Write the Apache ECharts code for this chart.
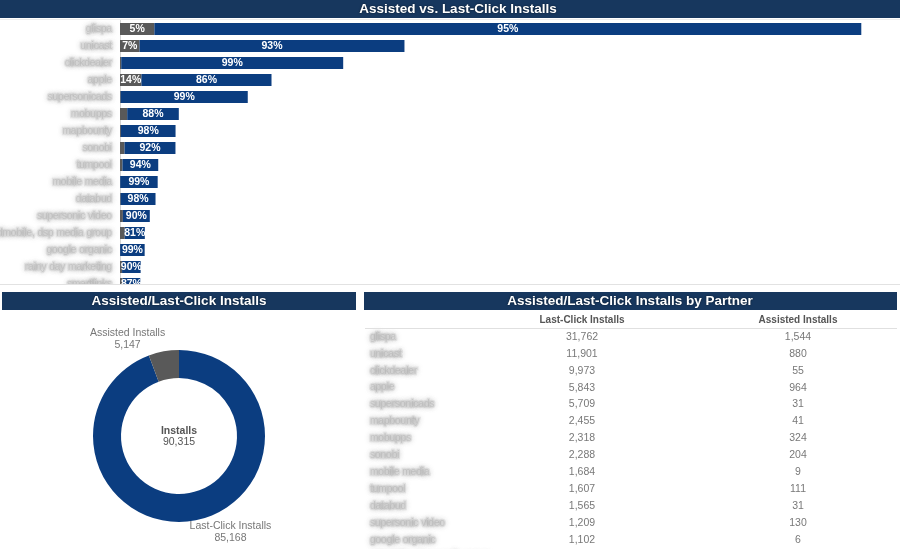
<!DOCTYPE html>
<html><head><meta charset="utf-8">
<script src="https://cdn.jsdelivr.net/npm/echarts@6/dist/echarts.min.js"></script>
<style>html,body{margin:0;padding:0;background:#fff}#c{width:900px;height:549px}</style>
</head><body><div id="c"></div>
<script>
// ---- data ----
const partners = ['glispa','unicast','clickdealer','apple','supersonicads','mobupps','mapbounty','sonobi','tumpool','mobile media','databud','supersonic video','admobile, dsp media group','google organic','rainy day marketing','smartlinks'];
const lastClick = [31762,11901,9973,5843,5709,2318,2455,2288,1607,1684,1565,1209,903,1102,835,792];
const assisted  = [1544,880,55,964,31,324,41,204,111,9,31,130,212,6,93,118];
const donutNames  = ['Last-Click Installs','Assisted Installs'];
const donutValues = [85168, 5147];
const tableColumns = ['Last-Click Installs','Assisted Installs'];

// ---- helpers ----
const FONT = 'Liberation Sans, Arial, sans-serif';
const NAVY = '#0b3d80', GREY = '#595959', HEAD = '#17375e';
const fmt = v => v.toLocaleString('en-US');
const pct = (i, v) => Math.round(v / (lastClick[i] + assisted[i]) * 100) + '%';
const blurLabel = {color:'rgba(150,150,150,0.3)', textBorderColor:'rgba(175,175,175,0.22)', textBorderWidth:2.5,
  textShadowColor:'rgba(140,140,140,1)', textShadowBlur:5, fontSize:10, fontFamily:FONT};

// table order: sorted by last-click
const order = partners.map((_, i) => i).sort((a, b) => lastClick[b] - lastClick[a]);
const tableNames = order.map(i => partners[i]);
const tableData = [];
order.forEach((idx, r) => {
  tableData.push([0, r, lastClick[idx]]);
  tableData.push([1, r, assisted[idx]]);
});
const donutTotal = donutValues.reduce((a, b) => a + b, 0);

const chart = echarts.init(document.getElementById('c'), null, {renderer:'canvas'});
chart.setOption({
  animation:false,
  textStyle:{fontFamily:FONT},
  grid:[
    {left:120, top:20.5, width:779, height:272, containLabel:false, outerBoundsMode:'none'},
    {left:474, top:328.5, width:432, height:270.4, containLabel:false, outerBoundsMode:'none'}
  ],
  xAxis:[
    {gridIndex:0, type:'value', min:0, max:35000, show:false},
    {gridIndex:1, type:'category', data:tableColumns, position:'top', z:60,
     axisLine:{show:false}, axisTick:{show:false}, splitLine:{show:false},
     axisLabel:{margin:3, color:'#555', fontWeight:'bold', fontSize:10, fontFamily:FONT}}
  ],
  yAxis:[
    {gridIndex:0, type:'category', data:partners, inverse:true,
     axisLine:{show:true, lineStyle:{color:'#d4d4d4'}}, axisTick:{show:false},
     axisLabel:Object.assign({margin:8}, blurLabel)},
    {gridIndex:1, type:'category', data:tableNames, inverse:true, z:60,
     axisLine:{show:false}, axisTick:{show:false}, splitLine:{show:false},
     axisLabel:Object.assign({margin:104, align:'left'}, blurLabel)}
  ],
  series:[
    {type:'bar', xAxisIndex:0, yAxisIndex:0, stack:'s', data:assisted, barWidth:12, z:2,
     itemStyle:{color:GREY},
     label:{show:true, position:'inside', color:'#fff', fontSize:10.5, fontWeight:'bold',
       formatter:p => p.value > 500 ? pct(p.dataIndex, p.value) : ''}},
    {type:'bar', xAxisIndex:0, yAxisIndex:0, stack:'s', data:lastClick, barWidth:12, z:2,
     itemStyle:{color:NAVY},
     label:{show:true, position:'inside', color:'#fff', fontSize:10.5, fontWeight:'bold',
       formatter:p => pct(p.dataIndex, p.value)}},
    {type:'pie', z:60, center:[179,436], radius:[58,86], startAngle:90, clockwise:true,
     avoidLabelOverlap:false,
     data:donutNames.map((n, i) => ({name:n, value:donutValues[i],
        itemStyle:{color: i === 0 ? NAVY : GREY}})),
     label:{show:true, position:'outside', distanceToLabelLine:0, color:'#777', fontSize:10.5,
       formatter:p => '{a|' + p.name + '}\n{a|' + fmt(p.value) + '}',
       rich:{a:{width:68, align:'center', color:'#777', fontSize:10.5, lineHeight:12, fontFamily:FONT}}},
     labelLine:{show:false, length:12, length2:0},
     emphasis:{disabled:true}},
    {type:'scatter', xAxisIndex:1, yAxisIndex:1, z:60, symbolSize:1,
     itemStyle:{color:'rgba(0,0,0,0)'},
     data:tableData,
     label:{show:true, position:'inside', color:'#555', fontSize:10.5,
       formatter:p => fmt(p.value[2])}}
  ],
  graphic:[
    {type:'rect', z:50, shape:{x:0, y:285, width:900, height:264}, style:{fill:'#fff'}},
    {type:'line', z:51, shape:{x1:0, y1:284.5, x2:900, y2:284.5}, style:{stroke:'#e2e2e2', lineWidth:1}},
    {type:'line', z:51, shape:{x1:0, y1:19.5, x2:900, y2:19.5}, style:{stroke:'#eeeeee', lineWidth:1}},
    {type:'rect', z:70, shape:{x:0, y:0, width:900, height:18}, style:{fill:HEAD}},
    {type:'text', z:71, x:458, y:9, style:{text:'Assisted vs. Last-Click Installs', fill:'#fff', font:'bold 13.5px ' + FONT, align:'center', verticalAlign:'middle', textShadowColor:'rgba(0,0,0,0.6)', textShadowBlur:2}},
    {type:'rect', z:70, shape:{x:2, y:292, width:354, height:18}, style:{fill:HEAD}},
    {type:'text', z:71, x:179, y:301, style:{text:'Assisted/Last-Click Installs', fill:'#fff', font:'bold 13.5px ' + FONT, align:'center', verticalAlign:'middle', textShadowColor:'rgba(0,0,0,0.6)', textShadowBlur:2}},
    {type:'rect', z:70, shape:{x:364, y:292, width:533, height:18}, style:{fill:HEAD}},
    {type:'text', z:71, x:630, y:301, style:{text:'Assisted/Last-Click Installs by Partner', fill:'#fff', font:'bold 13.5px ' + FONT, align:'center', verticalAlign:'middle', textShadowColor:'rgba(0,0,0,0.6)', textShadowBlur:2}},
    {type:'line', z:61, shape:{x1:365, y1:328.5, x2:897, y2:328.5}, style:{stroke:'#e0e0e0', lineWidth:1}},
    {type:'text', z:71, x:179, y:431, style:{text:'Installs', fill:'#555', font:'bold 10.5px ' + FONT, align:'center', verticalAlign:'middle'}},
    {type:'text', z:71, x:179, y:442, style:{text:fmt(donutTotal), fill:'#555', font:'10.5px ' + FONT, align:'center', verticalAlign:'middle'}}
  ]
});
</script>
</body></html>
